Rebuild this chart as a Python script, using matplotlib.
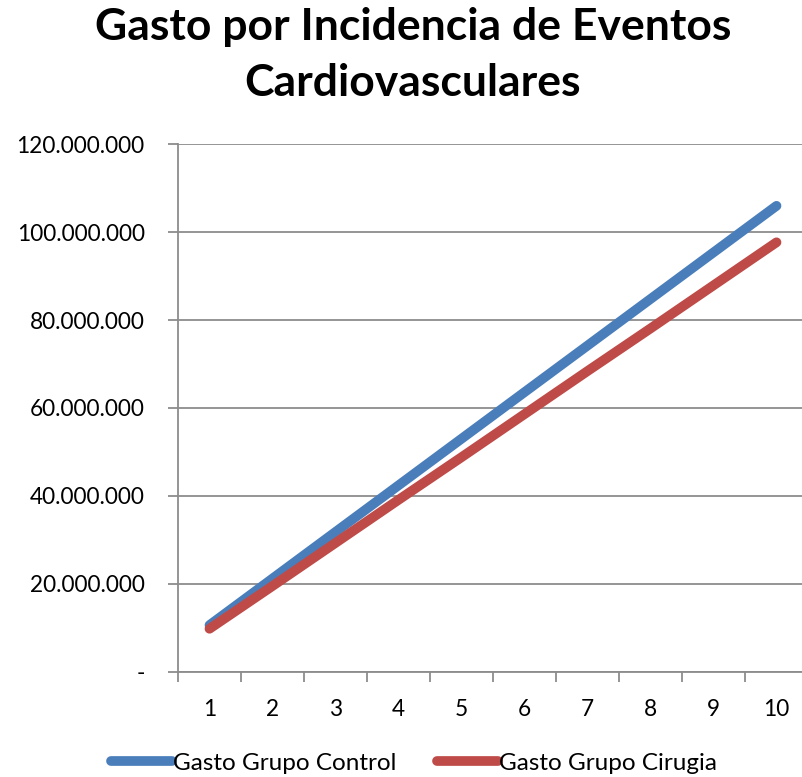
import matplotlib
matplotlib.use("Agg")
import matplotlib.pyplot as plt
from matplotlib.ticker import FuncFormatter, FixedLocator

years = [1, 2, 3, 4, 5, 6, 7, 8, 9, 10]
gasto_control = [10.6e6, 21.2e6, 31.8e6, 42.4e6, 53.0e6, 63.6e6, 74.2e6, 84.8e6, 95.4e6, 106.0e6]
gasto_cirugia = [9.77e6, 19.5e6, 29.3e6, 39.1e6, 48.8e6, 58.6e6, 68.4e6, 78.1e6, 87.9e6, 97.7e6]
series_names = ["Gasto Grupo Control", "Gasto Grupo Cirugia"]
title_lines = ["Gasto por Incidencia de Eventos", "Cardiovasculares"]
y_ticks = [0, 20e6, 40e6, 60e6, 80e6, 100e6, 120e6]

plt.rcParams['font.family'] = ['Lato', 'DejaVu Sans']

W, H = 802, 777
fig = plt.figure(figsize=(W / 100, H / 100), dpi=100)
ax = fig.add_axes([178 / W, 105.3 / H, 630 / W, 527.4 / H])

grid_c = "#8c8c8c"
ax.plot(years, gasto_control, color="#4A7EBB", lw=7, solid_capstyle="round", label=series_names[0], zorder=3)
ax.plot(years, gasto_cirugia, color="#BE4B48", lw=7, solid_capstyle="round", label=series_names[1], zorder=3)

ax.set_xlim(0.5, 10.5)
ax.set_ylim(0, 120e6)
ax.set_yticks(y_ticks)

def fmt(v, pos):
    if v == 0:
        return "-"
    return f"{int(round(v)):,}".replace(",", ".")
ax.yaxis.set_major_formatter(FuncFormatter(fmt))

ax.set_xticks(years)
ax.set_xticklabels([str(y) for y in years])
ax.xaxis.set_minor_locator(FixedLocator([y + 0.5 for y in range(0, 11)]))
ax.tick_params(axis="x", which="major", length=0, pad=20, labelsize=16.3)
ax.tick_params(axis="x", which="minor", length=7, width=1.3, color=grid_c, direction="out")
ax.tick_params(axis="y", length=7, width=1.3, color=grid_c, pad=17, labelsize=16.3)

ax.grid(axis="y", color=grid_c, lw=1.3, zorder=0)
ax.set_axisbelow(True)
for s in ["top", "right"]:
    ax.spines[s].set_visible(False)
for s in ["left", "bottom"]:
    ax.spines[s].set_color(grid_c)
    ax.spines[s].set_linewidth(1.3)

fig.text(413 / W, 1 - 40 / H, title_lines[0], ha="center", va="baseline", fontsize=32, fontweight="bold")
fig.text(413 / W, 1 - 96 / H, title_lines[1], ha="center", va="baseline", fontsize=32, fontweight="bold")

fig.legend(loc="center", bbox_to_anchor=(414 / W, 1 - 763 / H), ncol=2, frameon=False,
           fontsize=17.5, handlelength=2.5, handletextpad=0.02, columnspacing=1.7,
           borderpad=0, borderaxespad=0)

fig.savefig("out.png", dpi=100)
